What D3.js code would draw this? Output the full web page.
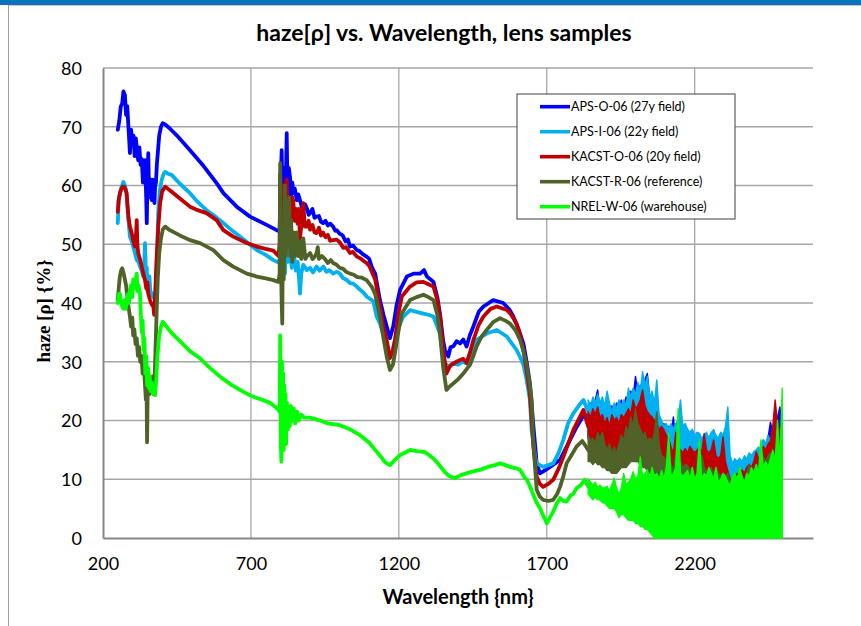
<!DOCTYPE html>
<html>
<head>
<meta charset="utf-8">
<script src="https://cdn.jsdelivr.net/npm/d3@7"></script>
<style>
  html, body { margin: 0; padding: 0; background: #fff; }
  svg { display: block; }
</style>
</head>
<body>
<svg id="chart" width="861" height="626"></svg>
<script>
// ---- data: haze [%] vs wavelength [nm] for five lens samples ----
const seriesNames = [
  "APS-O-06 (27y field)",
  "APS-I-06 (22y field)",
  "KACST-O-06 (20y field)",
  "KACST-R-06 (reference)",
  "NREL-W-06 (warehouse)"
];
const seriesColors = ["#0000ff", "#00b0f0", "#c00000", "#4f6228", "#00ff00"];

const xTicks = [200, 700, 1200, 1700, 2200];
const yTicks = [0, 10, 20, 30, 40, 50, 60, 70, 80];

// measured traces, [wavelength, haze]
const apsO = [[250,69.5],[255,71],[260,73.4],[265,74],[269,76],[274,75.4],[278,72],[282,73.5],[286,70],[291,65.5],[295,69.5],[299,67],[303,68.5],[307,65],[311,68],[315,66],[319,64.3],[323,66.5],[327,63.5],[331,64.5],[335,60.5],[339,63],[342,64.3],[346,58],[348,53.6],[350,60],[353,65.5],[356,58],[359,59.8],[362,61],[365,57.5],[368,61],[371,60],[374,57],[376,59.8],[379,60.5],[382,63.5],[386,66],[390,68.5],[396,70],[402,70.6],[410,70.4],[426,69.7],[450,68.5],[494,66],[540,63.3],[584,60.4],[607,58.7],[652,56.4],[697,54.7],[753,53.3],[787,52.4],[797,52.2],[801,61],[804,66],[807,57],[812,63],[816,55],[821,68.9],[824,58],[828,63],[832,61.5],[836,58],[840,60.5],[843,58.7],[848,59.5],[855,57.5],[860,58.5],[866,57.5],[871,56.5],[877,55.8],[883,56.8],[890,56],[895,55],[900,55.3],[908,56],[915,54.5],[922,54.7],[930,54.8],[937,53.8],[944,53.6],[952,54],[960,53.2],[968,53.5],[978,53],[985,52.3],[990,52.4],[1000,51.8],[1010,51.5],[1020,50.5],[1028,50.8],[1035,49.6],[1045,49.8],[1058,49],[1068,48.8],[1078,48.3],[1091,47.9],[1100,47.5],[1108,46.2],[1120,45],[1136,40.5],[1148,38],[1159,36],[1170,34],[1181,36],[1192,39.5],[1204,42.2],[1227,44.5],[1250,45],[1272,45],[1285,45.6],[1295,44.5],[1317,43.6],[1330,41],[1339,38.2],[1350,33.5],[1356,32],[1367,30.9],[1375,32.5],[1384,32.6],[1395,33.5],[1407,33.1],[1418,33.8],[1429,32.6],[1440,34.5],[1452,36],[1470,38.5],[1486,39.4],[1519,40.5],[1553,40],[1575,38.8],[1587,37.7],[1605,35.5],[1621,33.1],[1632,30],[1643,26.3],[1655,19],[1666,12.7],[1677,11],[1694,11.5],[1711,12.1],[1745,13.3],[1767,15.5],[1801,18.9],[1820,20.5],[1840,21]];
const apsI = [[250,53.6],[253,57.5],[258,59],[263,59.8],[269,60.6],[274,60],[278,59.2],[282,57],[286,54.1],[291,51.3],[297,50.5],[302,49.6],[308,48.5],[314,47.3],[320,47],[325,46.2],[331,45.5],[336,44.5],[339,46],[342,50.2],[345,45],[348,46],[350,42],[353,43.9],[357,44.5],[360,42],[365,41.6],[370,41],[376,40.5],[380,44],[383,49],[387,55.8],[392,59],[398,60.9],[405,62],[410,62.3],[420,62],[432,61.8],[460,60.3],[494,58.7],[520,57.2],[550,55.8],[580,54.7],[607,53.6],[635,52.4],[663,51.3],[690,50.2],[720,49],[750,48.2],[776,47.3],[797,46.8],[802,52],[806,46],[810,50],[815,45],[820,52],[825,47],[832,49.6],[838,46],[845,48.5],[852,45.5],[858,47],[863,44],[866,41.6],[870,45],[877,46.5],[889,45.6],[900,46],[910,45.2],[922,46.2],[932,45.5],[945,46.2],[955,45.3],[965,45.6],[978,45],[990,45.3],[1001,45],[1012,44.2],[1022,44],[1035,43.4],[1045,43.3],[1058,42.8],[1070,42.2],[1080,41.8],[1091,41.1],[1114,40.3],[1125,37.7],[1136,36.5],[1153,33.7],[1170,30.9],[1180,32],[1187,33.7],[1200,36],[1215,37.7],[1238,38.8],[1260,38.5],[1283,38.2],[1300,38],[1317,37.7],[1330,36],[1339,34.8],[1348,31.5],[1356,29.7],[1367,29.2],[1384,29.7],[1400,29.5],[1415,30],[1429,29.7],[1445,31.5],[1463,33.7],[1480,34.3],[1497,34.8],[1531,35.4],[1565,34.3],[1598,32],[1610,30.8],[1621,29.5],[1632,26.9],[1643,23.5],[1649,18.4],[1660,14],[1666,12.7],[1688,12.1],[1722,12.7],[1740,14.5],[1756,16.7],[1772,19.5],[1790,21.2],[1808,22.5],[1824,23.5],[1840,21.5]];
const kacstO = [[250,55.5],[253,57.5],[258,58.8],[263,59.5],[267,59.8],[271,59.8],[276,59.3],[280,58.7],[283,56.5],[286,54.7],[291,53],[297,51.9],[303,50.5],[308,49.6],[311,51],[314,54.1],[316,50],[319,48.5],[325,47.5],[331,46.2],[336,45],[342,43.9],[346,42.5],[350,43.5],[353,41.6],[359,40.5],[364,39.8],[370,39.4],[373,38],[376,41],[381,47.3],[387,53],[393,57],[400,59],[410,59.8],[426,59.2],[460,57.8],[494,56.4],[520,55.8],[550,55.3],[584,54.1],[607,52.4],[640,51.3],[686,50.2],[720,49.6],[750,49.2],[776,48.9],[793,48],[797,50],[799,62],[801,58],[804,53],[808,60],[812,52],[816,59],[821,61],[825,55],[830,57.5],[835,54],[840,58],[843,57.5],[848,54],[852,56],[858,53.5],[862,56],[866,51],[870,53],[877,57],[882,53],[889,53],[895,54],[900,52.5],[908,53.3],[915,52],[922,51.9],[930,52.8],[937,51.5],[944,52],[952,51.2],[960,51.6],[968,50.6],[978,50.7],[990,50.8],[1001,50.3],[1012,49.4],[1022,49.5],[1035,48.5],[1045,48.7],[1058,47.9],[1070,47.6],[1080,47.2],[1091,46.8],[1100,46.3],[1108,45.4],[1120,44],[1136,39.4],[1148,36],[1159,33.7],[1170,30.6],[1180,32],[1187,33.7],[1198,38],[1210,41.1],[1238,42.8],[1260,43.5],[1283,43.6],[1300,43.2],[1317,42.8],[1330,40.5],[1339,37.7],[1350,32],[1361,28],[1370,29],[1378,29.5],[1395,30],[1407,30.3],[1418,30.5],[1429,29.8],[1440,31.5],[1452,33.7],[1470,36.3],[1486,37.7],[1510,39],[1531,39.4],[1565,38.8],[1580,38],[1598,36.5],[1610,34.5],[1621,32],[1632,28.5],[1643,24.6],[1655,15.5],[1666,10.4],[1677,9.2],[1688,8.7],[1705,9.2],[1722,9.9],[1740,11.8],[1756,13.8],[1790,18.4],[1824,21.8],[1840,19]];
const kacstR = [[250,40.5],[254,43],[257,44.5],[261,45.5],[265,45.9],[270,45],[274,44],[278,43],[280,42],[283,41],[286,39.5],[291,37.7],[295,36],[299,37.5],[302,34.5],[306,35.5],[310,33],[314,34],[318,31],[322,32.5],[326,30],[330,31],[334,28],[338,29.5],[342,26],[345,23.5],[347,27],[349,16.3],[351,25],[354,28],[357,24.5],[360,27],[364,25],[368,27.5],[372,26],[375,28],[378,33],[381,38],[385,44],[390,48.5],[396,51],[402,52.5],[410,53],[426,52.4],[460,51.5],[494,50.7],[528,50.2],[573,49],[607,47.3],[640,46.2],[686,45],[720,44.5],[750,44.2],[776,43.9],[793,43.6],[797,45],[799,63.8],[801,48],[804,40],[806,36.5],[808,52],[811,44],[815,60],[818,48],[822,55],[825,50],[829,58],[833,48],[836,54],[840,47],[845,52],[850,48],[855,52],[860,48],[865,50.5],[870,47.5],[877,51],[884,47.5],[890,48],[900,48.5],[908,47.5],[915,47.8],[922,48.5],[926,49.5],[930,47.5],[940,48],[950,47.5],[960,46.8],[970,47.3],[978,46.8],[990,46.5],[1000,46],[1012,45.8],[1022,45.3],[1035,45],[1048,44.8],[1060,44.4],[1075,44.3],[1091,43.9],[1108,42.8],[1120,41.5],[1136,37.7],[1148,34],[1159,30.9],[1170,28.6],[1180,29.5],[1187,31.5],[1198,35],[1210,38.2],[1238,40.5],[1260,41],[1283,41.4],[1300,41],[1317,40.5],[1330,38],[1339,34.8],[1350,29],[1361,25.2],[1372,25.8],[1384,26.3],[1400,27],[1418,28],[1430,28.8],[1441,29.5],[1452,31],[1463,32.6],[1480,34.3],[1497,35.4],[1520,36.8],[1542,37.4],[1560,37],[1576,36.5],[1595,35.3],[1610,33.7],[1621,31.8],[1632,29.5],[1643,26],[1649,23.5],[1655,16],[1666,8.2],[1677,7],[1688,6.5],[1705,6.3],[1722,6.5],[1735,7.5],[1745,8.7],[1756,10.5],[1767,12.7],[1785,14.2],[1801,15.6],[1820,16.5],[1840,15]];
const nrelW = [[250,40],[254,41.5],[257,41.6],[261,40],[265,39.4],[269,39],[273,40.5],[277,39],[280,40.5],[284,41.5],[288,40],[291,42.2],[295,43],[299,41],[302,44],[306,42.5],[310,43.5],[314,45],[317,42],[320,43],[325,41.6],[328,38],[331,35],[334,37],[337,32],[340,34],[343,28],[346,31],[349,26],[352,29],[355,25.5],[358,27.5],[361,25],[365,26.5],[369,24.5],[372,26],[376,24.3],[380,27],[384,31],[390,34.5],[396,36],[402,36.8],[410,36.3],[430,35],[460,33.5],[494,31.8],[528,30.6],[560,29],[600,27.3],[630,26.2],[663,25.2],[700,24.2],[740,23.5],[765,23],[790,22],[797,21.5],[799,34.5],[801,16],[803,13],[805,30],[807,17],[809,28],[811,15],[813,26],[815,18],[817,24.5],[819,16],[822,23],[825,18.5],[828,22],[831,19],[835,22.5],[840,20],[845,22],[850,19.5],[856,21.5],[862,20],[870,21],[880,20.5],[900,20.5],[934,20],[960,19.5],[1001,19.2],[1035,18.5],[1069,17.5],[1100,16.2],[1120,15],[1140,13.8],[1153,12.9],[1170,12.4],[1185,13.2],[1204,14.1],[1220,14.5],[1238,15],[1260,14.8],[1289,14.6],[1305,14],[1322,13.3],[1340,12.2],[1356,11.2],[1372,10.5],[1390,10.2],[1410,10.7],[1440,11.2],[1474,11.6],[1500,12.1],[1525,12.4],[1542,12.7],[1560,12.4],[1576,12.1],[1600,11.8],[1610,11.6],[1626,10.2],[1632,10],[1643,8.8],[1655,7.3],[1666,6],[1677,5.1],[1688,3.8],[1700,2.5],[1711,3.5],[1722,4.5],[1733,5.8],[1745,6.8],[1756,6.3],[1767,6.2],[1780,7.2],[1790,7.5],[1801,8.5],[1815,9],[1828,9.9],[1840,8.8]];

// noisy range beyond 1840 nm: shared wavelength grid with low/high envelopes
const noiseWl = [1840,1848,1856,1864,1872,1880,1888,1896,1904,1912,1920,1928,1936,1944,1952,1960,1968,1976,1984,1992,2000,2008,2016,2024,2032,2040,2048,2056,2064,2072,2080,2088,2096,2104,2112,2120,2128,2136,2144,2152,2160,2168,2176,2184,2192,2200,2208,2216,2224,2232,2240,2248,2256,2264,2272,2280,2288,2296,2304,2312,2320,2328,2336,2344,2352,2360,2368,2376,2384,2392,2400,2408,2416,2424,2432,2440,2448,2456,2464,2472,2480,2488,2496];

const apsOHi = [22.5,23,22,23.5,25.2,22,23.5,21.5,22.5,21,22.5,21.5,23,22,23.5,22.5,24,23,25,24,27.5,24.5,26,25,27,28,24,23,22.5,21,20.6,19,19.5,18,19,17.5,20.6,16.5,17,16,16.5,15.5,16,15,15.5,14.5,15,14,14.5,15,14,15.5,16,18.4,14.5,14,13.5,14,13,12.5,13,12,12.5,12,12.5,12,13,12.5,13,13.5,13,14,14.5,15,16.7,16,17,19.7,18,19.5,20.5,22.3,19];
const apsOLo = [17,17.5,18,17,18,17.5,17,16.5,16,15.5,16,15.5,16,16.5,17,16.5,17,17.5,18,17.5,18,18.5,18,18,18.5,18,17,16.5,16,15,14.5,14,13.5,13,13,12.5,12,11.5,11,11,10.5,10.5,10,10,10,9.5,9.5,9,9,9,9,9,9,9,9,9,8.5,8.5,8.5,8,8,8,8,8,8,8,8,8.5,8.5,9,9,9,9.5,9.5,10,10,10.5,11,11.5,12,12.5,13,12];

const apsIHi = [23.5,22.5,24,23,24.5,23,24,22.5,25,23,21.5,23,22,23.5,22.5,23.5,22.5,25.5,24,25.5,24.5,26.5,25,28.3,26,27.5,24,25,23,26.9,21,20,19,19.5,18.5,19.5,18.5,19.5,20,23.5,19,19.5,18.5,18,18.5,17.5,18,17.8,17,17.5,18,17,18,18.4,17.5,17,18,17.5,19,22.3,14,12.7,13.5,13,13.6,13,14,13.5,14.5,14,14.7,15,15.5,15,16.7,16,17.5,16.5,18.4,17,16,14,13];
const apsILo = [19,18.5,19,19.5,19,18.5,18,18,17.5,17,16.5,16.5,16.5,17,17,17.5,17,18,18,18.5,18,19,18.5,19,19,18.5,18,17,16.5,16,15,14.5,14,13.5,13,12.5,12,12,11.5,12,11.5,11,11,11,11,10.5,10.5,10,10,10,10,10,10,10,10,10,10,10,10,10,9.5,9,9,9,9,9,9,9,9,9,9,9.5,9.5,10,10,10,10.5,11,11.5,11,11,10,10];

const kacstOHi = [21.5,20.5,22,21,22.3,20.5,21,19.5,20.5,19,21,20,20.5,19.5,21,20.5,21.2,22,21,23.5,22,22.5,23.5,25.2,22.5,21.5,21,20.6,20,19.5,18.5,19,18.4,17.5,17,15.5,14.4,18,15.5,15,14.5,15.2,14.5,15.6,15,14.5,15,15.5,14.5,17.8,15,14.5,15,16.7,14,13.5,14,17.2,13,11.5,10,9.5,10.5,11,10.5,11.6,11,12,12.5,12,13,14.7,13.5,14,15.6,15,16,16.5,19,23.5,19.5,18.4,16];
const kacstOLo = [17,16.5,16.5,16,16,15.5,15,15,14.5,14,14,14,14,14.5,14.5,15,15,15,15.5,16,16,16,15.5,15.5,15,14.5,14,13.5,13,12.5,12,11.5,11,10.5,10,10,9.5,9.5,9,9,9,9,9,9,8.5,8.5,8.5,8,8,8,8,8,8,8,8,8,8,8,7.5,7,6.5,6,6,6.5,6.5,7,7,7,7,7,7.5,7.5,8,8,8.5,8.5,9,9,9.5,10,10.5,10.5,10];

const kacstRHi = [17.5,16.5,17,16,18,17,18,16,15,16,14.5,15.5,14.4,16,17.5,16.5,19,18,20.6,19,22,19.5,18.6,17.5,18,16.5,17,16.5,18,21.5,16,14,13.8,13,13.5,12.5,11.6,14,12.5,13,12,12.5,12.4,11.5,12,10.5,9,11,14,12,11.5,11,12,10.5,12,11,10.5,11,10.5,11,9.5,9,9.5,9,9.5,9,8.5,11,12.5,11,11.5,12.5,12,13,13.8,13,14,14.5,13.5,14,15,14,13];
const kacstRLo = [13,13,12.5,13,12.5,12.5,12,12,11.5,11.5,11,11,11,11.5,12,12,12,12.5,13,13,13,13,12.5,12,12,11.5,11,11,11,10.5,10,9.5,9,9,8.5,8.5,8,8,8,8,8,7.5,7.5,7.5,7,7,6,6.5,7,7,7,6.5,6,6,6,6,6,6,6,5.5,5,5,5,5,5,5,5,5.5,6,6,6,6.5,7,7,7.5,8,8,8,8,8,8,8,8];

const nrelWHi = [10,9.5,9,9.5,8.5,9,8.5,8.5,8.8,8,9,10.2,8.5,7.5,8.5,11,9,9.5,10,11.3,10,10.5,13.8,10.5,11,11.6,10,12,10.5,11,10,11.5,10,12,17.8,10.5,11,12,22,11,10.5,11,11.5,10,12,10,11,16.7,10,11,10.5,12,11,10,12,9.5,10,11,10.5,9.5,9,10.5,11,10,12,10.5,9.5,11,10.5,12,11,12.5,11,16.7,12,13,12,13.5,15,13,20,13,25.5];
const nrelWLo = [7.5,7,6.5,7,6.5,6.5,6,6,5.5,5,5,5,4.5,3.5,4,4,3.5,3,3,3,2.5,2.5,2,2,1.5,1.5,1,0.5,0,0,0,0,0,0,0,0,0,0,0,0,0,0,0,0,0,0,0,0,0,0,0,0,0,0,0,0,0,0,0,0,0,0,0,0,0,0,0,0,0,0,0,0,0,0,0,0,0,0,0,0,0,0,0];

const seriesLines = [apsO, apsI, kacstO, kacstR, nrelW];
const seriesLo = [apsOLo, apsILo, kacstOLo, kacstRLo, nrelWLo];
const seriesHi = [apsOHi, apsIHi, kacstOHi, kacstRHi, nrelWHi];

// ---- layout ----
const svg = d3.select("#chart");
const W = 861, H = 626;
const plot = { left: 103, right: 813, top: 68, bottom: 538 };
const font = "Lato, 'Open Sans', sans-serif";

const x = d3.scaleLinear().domain([200, 2600]).range([plot.left, plot.right]);
const y = d3.scaleLinear().domain([0, 80]).range([plot.bottom, plot.top]);

// window frame: blue header band and thin left rule
svg.append("rect").attr("x", 0).attr("y", 0).attr("width", W).attr("height", 5).attr("fill", "#0b72bd");
svg.append("line").attr("x1", 8).attr("x2", W).attr("y1", 5.5).attr("y2", 5.5).attr("stroke", "#c8c8c8");
svg.append("line").attr("x1", 8.5).attr("x2", 8.5).attr("y1", 5).attr("y2", H).attr("stroke", "#a0a0a0");

// gridlines
const grid = svg.append("g").attr("class", "grid");
grid.selectAll("line.h").data(yTicks.filter(t => t > 0)).join("line")
  .attr("x1", plot.left).attr("x2", plot.right)
  .attr("y1", d => y(d)).attr("y2", d => y(d))
  .attr("stroke", "#a6a6a6").attr("stroke-width", 1.3);
grid.selectAll("line.v").data(xTicks.filter(t => t > 200)).join("line")
  .attr("x1", d => x(d)).attr("x2", d => x(d))
  .attr("y1", plot.top).attr("y2", plot.bottom)
  .attr("stroke", "#a6a6a6").attr("stroke-width", 1.3);

// axes
const xAxis = svg.append("g").attr("transform", `translate(0,${plot.bottom})`)
  .call(d3.axisBottom(x).tickValues(xTicks).tickSize(0).tickPadding(19).tickFormat(d3.format("d")));
const yAxis = svg.append("g").attr("transform", `translate(${plot.left},0)`)
  .call(d3.axisLeft(y).tickValues(yTicks).tickSize(0).tickPadding(21).tickFormat(d3.format("d")));
[xAxis, yAxis].forEach(g => {
  g.select(".domain").attr("stroke", "#868686").attr("stroke-width", 2);
  g.selectAll("text").attr("font-family", font).attr("font-size", 18).attr("fill", "#000");
});
yAxis.selectAll("text").attr("dy", "0.36em");

// series: measured trace plus the noisy long-wavelength envelope
const line = d3.line().x(d => x(d[0])).y(d => y(d[1]));
const band = d3.area().x(d => x(d.wl)).y0(d => y(d.lo)).y1(d => y(d.hi));
const seriesG = svg.append("g");
seriesLines.forEach((pts, i) => {
  const g = seriesG.append("g");
  g.append("path").attr("d", line(pts))
    .attr("fill", "none").attr("stroke", seriesColors[i]).attr("stroke-width", 3.8)
    .attr("stroke-linejoin", "round").attr("stroke-linecap", "round");
  const env = noiseWl.map((wl, k) => ({ wl, lo: seriesLo[i][k], hi: seriesHi[i][k] }));
  g.append("path").attr("d", band(env))
    .attr("fill", seriesColors[i]).attr("stroke", seriesColors[i]).attr("stroke-width", 1.4)
    .attr("stroke-linejoin", "round");
});

// legend
const lg = svg.append("g").attr("transform", "translate(517,94)");
lg.append("rect").attr("x", 0).attr("y", 0).attr("width", 218).attr("height", 125)
  .attr("fill", "#fff").attr("stroke", "#404040").attr("stroke-width", 1);
seriesNames.forEach((name, i) => {
  const cy = 12.7 + i * 25;
  lg.append("line").attr("x1", 23).attr("x2", 53).attr("y1", cy).attr("y2", cy)
    .attr("stroke", seriesColors[i]).attr("stroke-width", 3.6);
  lg.append("text").attr("x", 54).attr("y", cy).attr("dy", "0.35em")
    .attr("font-family", font).attr("font-size", 12.5).attr("fill", "#000").text(name);
});

// titles
svg.append("text").attr("x", 444).attr("y", 41).attr("text-anchor", "middle")
  .attr("font-family", font).attr("font-weight", "bold").attr("font-size", 23)
  .text("haze[ρ] vs. Wavelength, lens samples");
svg.append("text").attr("x", 458).attr("y", 604).attr("text-anchor", "middle")
  .attr("font-family", font).attr("font-weight", "bold").attr("font-size", 20)
  .text("Wavelength {nm}");
svg.append("text").attr("transform", "translate(50,311) rotate(-90)").attr("text-anchor", "middle")
  .attr("font-family", "'Liberation Serif', 'Times New Roman', serif").attr("font-weight", "bold").attr("font-size", 19)
  .text("haze [ρ] {%}");
</script>
</body>
</html>
